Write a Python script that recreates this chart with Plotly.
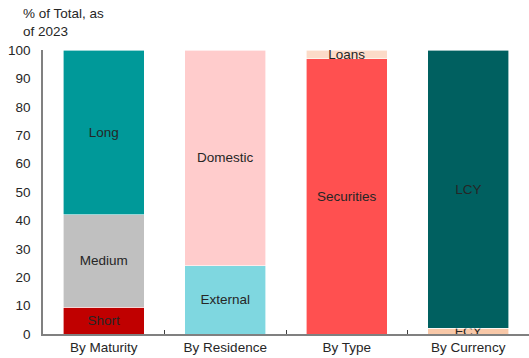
import plotly.graph_objects as go

categories = ["By Maturity", "By Residence", "By Type", "By Currency"]

# Segments listed bottom to top within each category
maturity_labels = ["Short", "Medium", "Long"]
maturity_values = [9.5, 32.5, 58.0]
residence_labels = ["External", "Domestic"]
residence_values = [24.0, 76.0]
type_labels = ["Securities", "Loans"]
type_values = [97.0, 3.0]
currency_labels = ["FCY", "LCY"]
currency_values = [2.0, 98.0]

y_ticks = [0, 10, 20, 30, 40, 50, 60, 70, 80, 90, 100]

colors = {
    "Short": "#C00000", "Medium": "#C0C0C0", "Long": "#009999",
    "External": "#7FD7E0", "Domestic": "#FFCCCC",
    "Securities": "#FF5050", "Loans": "#FCDBC8",
    "FCY": "#F8C8A8", "LCY": "#006060",
}

groups = [
    (categories[0], maturity_labels, maturity_values),
    (categories[1], residence_labels, residence_values),
    (categories[2], type_labels, type_values),
    (categories[3], currency_labels, currency_values),
]

font_family = "Liberation Sans, Arial, sans-serif"
fsize = 13.5
fig = go.Figure()
for cat, labels, values in groups:
    for lab, val in zip(labels, values):
        fig.add_trace(go.Bar(
            x=[cat], y=[val], name=lab,
            marker=dict(color=colors[lab], line=dict(color="white", width=0.6)),
            text=[lab], textposition="inside", insidetextanchor="middle",
            constraintext="none", textangle=0,
            textfont=dict(color="#262626", size=fsize, family=font_family),
            hoverinfo="skip", showlegend=False,
        ))

fig.update_layout(
    barmode="stack", bargap=0.33,
    width=529, height=358,
    margin=dict(l=43, r=0, t=50, b=24),
    plot_bgcolor="white", paper_bgcolor="white",
    font=dict(family=font_family, size=fsize, color="#262626"),
    annotations=[dict(
        text="% of Total, as<br>of 2023", xref="paper", yref="paper",
        x=-0.045, y=1.0, xanchor="left", yanchor="bottom", yshift=9,
        showarrow=False, align="left",
        font=dict(size=fsize, color="#262626", family=font_family),
    )],
)
fig.update_yaxes(
    range=[0, 100], tickvals=y_ticks, showgrid=False,
    showline=True, linecolor="#808080", linewidth=1.5,
    ticks="outside", ticklen=8, tickcolor="rgba(0,0,0,0)", zeroline=False,
)
fig.update_xaxes(
    showline=True, linecolor="#808080", linewidth=1.5,
    ticks="inside", tickson="boundaries", ticklen=4, tickcolor="#404040",
    showgrid=False,
)

fig.write_html("out.html")
